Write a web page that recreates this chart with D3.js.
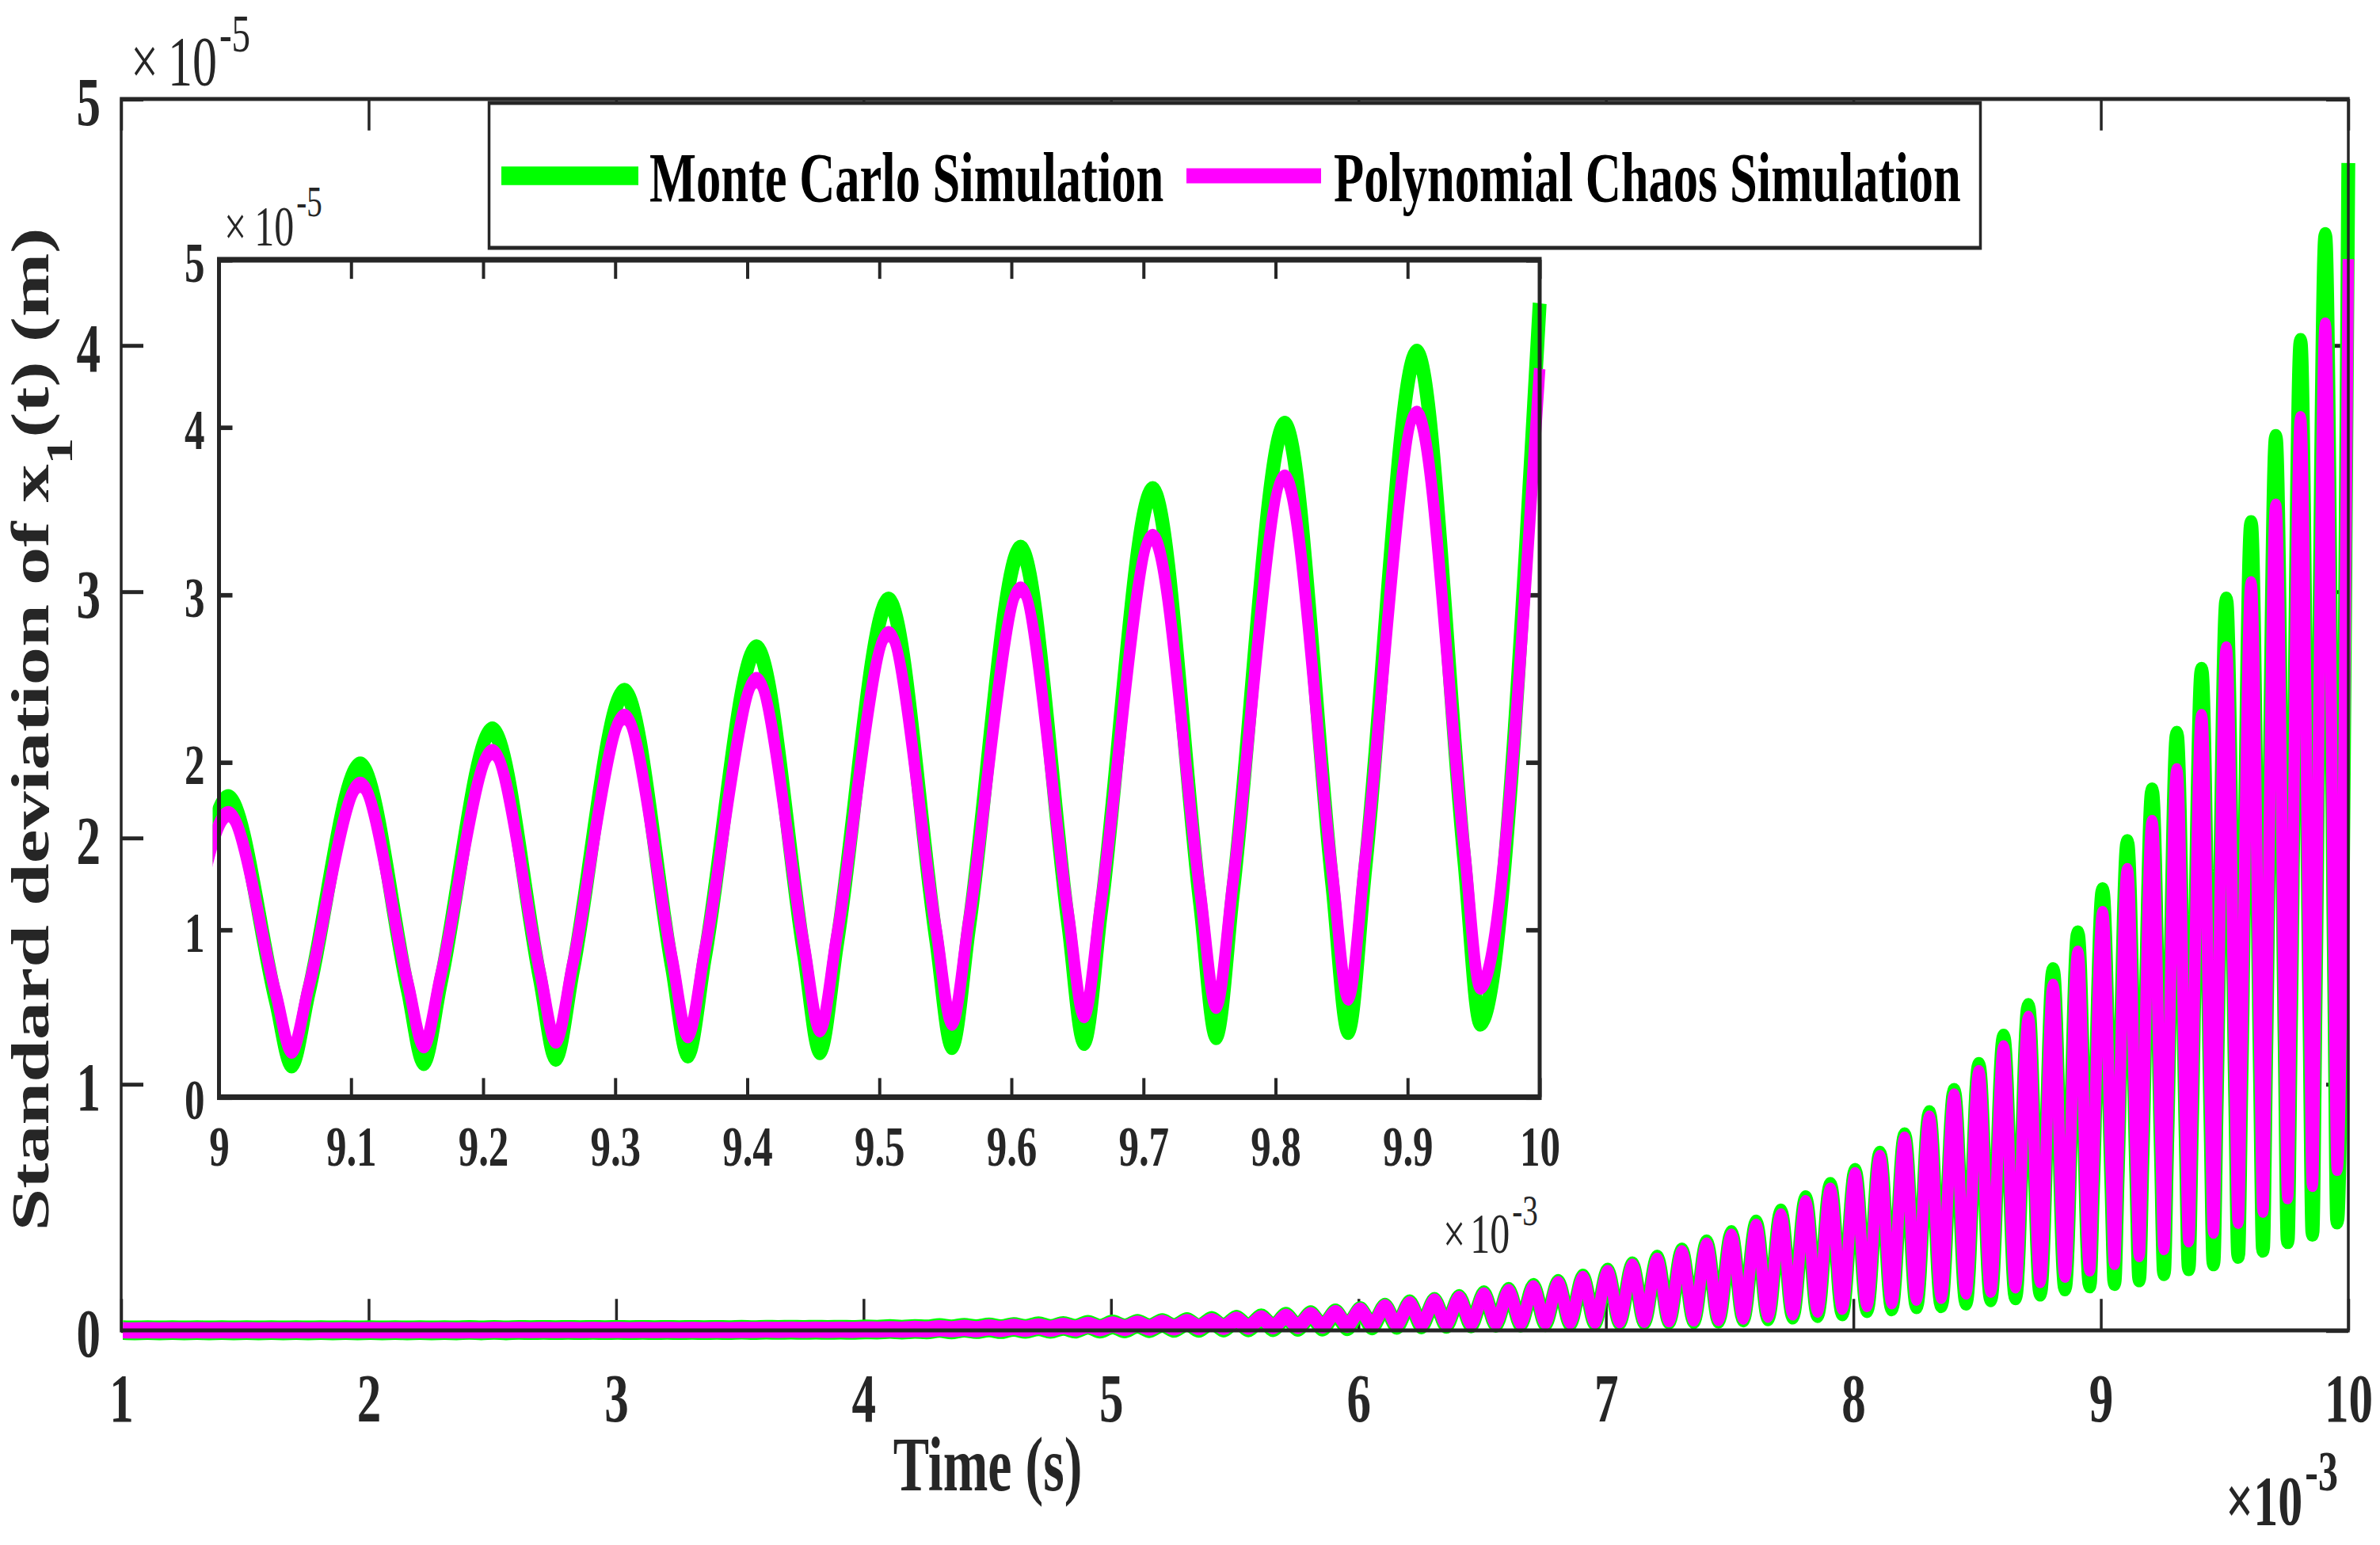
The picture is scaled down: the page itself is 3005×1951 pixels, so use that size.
<!DOCTYPE html>
<html>
<head>
<meta charset="utf-8">
<script src="https://cdn.jsdelivr.net/npm/d3@7"></script>
<style>
  body { margin: 0; background: #fff; }
  svg { display: block; }
  text { font-family: "Liberation Serif", "Times New Roman", serif; }
</style>
</head>
<body>
<div id="chart"></div>
<script>
// std. deviation of x1(t), in units of 1e-5 m.
// The response oscillates once every 0.1 ms, so each cycle is stored as
// its peak (at start + 0.007 ms) and its trough (at start + 0.055 ms).
const cycleStart = d3.range(10, 100).map(i => i / 10);   // 1.0 ... 9.9 (x 1e-3 s)
const peakPhase = 0.007;
const troughPhase = 0.055;
const endTime = 10;

const monteCarloPeak = [
  0.001, 0.001, 0.001, 0.001, 0.001, 0.001, 0.001, 0.001, 0.001, 0.001,
  0.001, 0.001, 0.001, 0.001, 0.002, 0.002, 0.002, 0.002, 0.002, 0.002,
  0.002, 0.002, 0.002, 0.002, 0.002, 0.003, 0.003, 0.003, 0.003, 0.003,
  0.004, 0.006, 0.006, 0.010, 0.011, 0.012, 0.014, 0.017, 0.018, 0.023,
  0.024, 0.027, 0.030, 0.034, 0.039, 0.044, 0.049, 0.056, 0.062, 0.069,
  0.079, 0.093, 0.106, 0.116, 0.128, 0.143, 0.157, 0.173, 0.189, 0.211,
  0.235, 0.261, 0.288, 0.317, 0.350, 0.388, 0.430, 0.475, 0.529, 0.583,
  0.640, 0.710, 0.785, 0.875, 0.965, 1.070, 1.185, 1.310, 1.455, 1.605,
  1.780, 1.975, 2.185, 2.415, 2.675, 2.960, 3.270, 3.620, 4.010, 4.440
];
const monteCarloTrough = [
  0.000, 0.000, 0.000, 0.000, 0.000, 0.000, 0.000, 0.000, 0.000, 0.000,
  0.000, 0.000, 0.000, 0.000, 0.000, 0.000, 0.001, 0.001, 0.001, 0.001,
  0.001, 0.001, 0.001, 0.001, 0.001, 0.001, 0.002, 0.002, 0.002, 0.002,
  0.003, 0.003, 0.004, 0.004, 0.005, 0.005, 0.006, 0.006, 0.007, 0.007,
  0.008, 0.009, 0.010, 0.010, 0.011, 0.012, 0.013, 0.014, 0.015, 0.017,
  0.020, 0.022, 0.024, 0.026, 0.028, 0.030, 0.031, 0.033, 0.034, 0.036,
  0.039, 0.041, 0.043, 0.045, 0.047, 0.052, 0.057, 0.064, 0.070, 0.077,
  0.090, 0.097, 0.106, 0.110, 0.120, 0.134, 0.142, 0.157, 0.178, 0.190,
  0.200, 0.215, 0.240, 0.260, 0.280, 0.310, 0.335, 0.370, 0.400, 0.450
];
const monteCarloEnd = 4.74;

const polyChaosPeak = [
  0.001, 0.001, 0.001, 0.001, 0.001, 0.001, 0.001, 0.001, 0.001, 0.001,
  0.001, 0.001, 0.001, 0.001, 0.001, 0.002, 0.002, 0.002, 0.002, 0.002,
  0.002, 0.002, 0.002, 0.002, 0.002, 0.002, 0.003, 0.003, 0.003, 0.003,
  0.004, 0.005, 0.006, 0.009, 0.010, 0.012, 0.014, 0.016, 0.018, 0.022,
  0.024, 0.027, 0.030, 0.034, 0.038, 0.043, 0.049, 0.055, 0.062, 0.070,
  0.080, 0.094, 0.106, 0.117, 0.128, 0.142, 0.156, 0.171, 0.188, 0.209,
  0.233, 0.259, 0.283, 0.313, 0.345, 0.381, 0.421, 0.463, 0.517, 0.567,
  0.630, 0.700, 0.775, 0.860, 0.950, 1.045, 1.145, 1.265, 1.395, 1.530,
  1.690, 1.865, 2.060, 2.270, 2.490, 2.765, 3.030, 3.345, 3.700, 4.080
];
const polyChaosTrough = [
  0.000, 0.000, 0.000, 0.000, 0.000, 0.000, 0.000, 0.000, 0.000, 0.000,
  0.000, 0.000, 0.000, 0.000, 0.000, 0.001, 0.001, 0.001, 0.001, 0.001,
  0.001, 0.001, 0.001, 0.001, 0.001, 0.002, 0.002, 0.002, 0.002, 0.002,
  0.003, 0.003, 0.004, 0.005, 0.005, 0.006, 0.007, 0.007, 0.008, 0.009,
  0.010, 0.011, 0.012, 0.013, 0.014, 0.015, 0.017, 0.018, 0.020, 0.023,
  0.025, 0.027, 0.028, 0.030, 0.031, 0.033, 0.034, 0.036, 0.037, 0.039,
  0.041, 0.043, 0.045, 0.048, 0.050, 0.056, 0.064, 0.073, 0.084, 0.096,
  0.107, 0.118, 0.133, 0.140, 0.158, 0.165, 0.183, 0.204, 0.226, 0.252,
  0.278, 0.310, 0.338, 0.370, 0.405, 0.445, 0.490, 0.545, 0.595, 0.660
];
const polyChaosEnd = 4.35;

// extra readings near the V-shaped troughs of the zoomed cycles:
// on the way down (start + 0.043 ms, cycles 9.0 ... 9.9)
// and on the way up (start + 0.068 ms, cycles 8.9 ... 9.8)
const fallPhase = 0.043;
const risePhase = 0.068;
const firstFallCycle = 80;
const firstRiseCycle = 79;
const monteCarloFall = [0.58, 0.64, 0.71, 0.78, 0.855, 0.945, 1.04, 1.15, 1.27, 1.41];
const monteCarloRise = [0.57, 0.63, 0.69, 0.76, 0.84, 0.92, 1.02, 1.12, 1.24, 1.37];
const polyChaosFall = [0.62, 0.68, 0.75, 0.83, 0.905, 1.00, 1.10, 1.22, 1.34, 1.48];
const polyChaosRise = [0.60, 0.66, 0.73, 0.80, 0.88, 0.97, 1.065, 1.175, 1.30, 1.43];

const seriesNames = ["Monte Carlo Simulation", "Polynomial Chaos Simulation"];
const mainXTicks = [1, 2, 3, 4, 5, 6, 7, 8, 9, 10];
const mainYTicks = [0, 1, 2, 3, 4, 5];
const insetXTicks = [9, 9.1, 9.2, 9.3, 9.4, 9.5, 9.6, 9.7, 9.8, 9.9, 10];
const insetYTicks = [0, 1, 2, 3, 4, 5];

function buildSeries(peaks, troughs, fall, rise, endValue) {
  const pts = [];
  cycleStart.forEach((s, i) => {
    pts.push({t: s + peakPhase, v: peaks[i]});
    const f = i - firstFallCycle;
    if (f >= 0 && f < fall.length) pts.push({t: s + fallPhase, v: fall[f]});
    pts.push({t: s + troughPhase, v: troughs[i]});
    const r = i - firstRiseCycle;
    if (r >= 0 && r < rise.length) pts.push({t: s + risePhase, v: rise[r]});
  });
  pts.push({t: endTime, v: endValue});
  return pts;
}

const series = [
  {name: seriesNames[0], color: "#00ff00", width: 17.5,
   data: buildSeries(monteCarloPeak, monteCarloTrough, monteCarloFall, monteCarloRise, monteCarloEnd)},
  {name: seriesNames[1], color: "#ff00ff", width: 14.5,
   data: buildSeries(polyChaosPeak, polyChaosTrough, polyChaosFall, polyChaosRise, polyChaosEnd)}
];

// the exported figure is stretched vertically; draw in an unstretched
// frame and scale it, so strokes and glyphs stretch the same way
const K = 1.42;
const v = y => y / K;
const axisColor = "#262626";

const svg = d3.select("#chart").append("svg")
  .attr("width", 3005)
  .attr("height", 1951);
svg.append("rect").attr("width", 3005).attr("height", 1951).attr("fill", "#fff");

const g = svg.append("g").attr("transform", `scale(1,${K})`);

function drawAxes(parent, x, y, box, o) {
  const ax = parent.append("g");
  ax.append("rect")
    .attr("x", box.left).attr("y", box.top)
    .attr("width", box.right - box.left).attr("height", box.bottom - box.top)
    .attr("fill", "#fff");

  const fmt = d3.format("~g");
  const bottom = ax.append("g")
    .attr("transform", `translate(0,${box.bottom})`)
    .call(d3.axisBottom(x).tickValues(o.xTicks).tickSize(-o.tick).tickFormat(fmt));
  const top = ax.append("g")
    .attr("transform", `translate(0,${box.top})`)
    .call(d3.axisTop(x).tickValues(o.xTicks).tickSize(-o.tick).tickFormat(""));
  const left = ax.append("g")
    .attr("transform", `translate(${box.left},0)`)
    .call(d3.axisLeft(y).tickValues(o.yTicks).tickSize(-o.tick).tickFormat(fmt));
  const right = ax.append("g")
    .attr("transform", `translate(${box.right},0)`)
    .call(d3.axisRight(y).tickValues(o.yTicks).tickSize(-o.tick).tickFormat(""));

  [bottom, top, left, right].forEach(a => {
    a.attr("font-family", null).attr("font-size", null);
    a.select(".domain").remove();
    a.selectAll(".tick line").attr("stroke", axisColor).attr("stroke-width", o.stroke);
  });

  bottom.selectAll("text")
    .attr("y", o.xLabelOffset).attr("dy", 0)
    .attr("fill", axisColor).attr("font-size", o.font).attr("font-weight", "bold");
  left.selectAll("text")
    .attr("x", -o.yLabelGap).attr("dy", "0.37em")
    .attr("fill", axisColor).attr("font-size", o.font).attr("font-weight", "bold");

  return ax;
}

function drawFrame(parent, box, stroke) {
  parent.append("rect")
    .attr("x", box.left).attr("y", box.top)
    .attr("width", box.right - box.left).attr("height", box.bottom - box.top)
    .attr("fill", "none").attr("stroke", axisColor).attr("stroke-width", stroke);
}

function drawLines(parent, x, y, clipId) {
  const line = d3.line()
    .x(d => x(d.t))
    .y(d => y(d.v))
    .curve(d3.curveMonotoneX);
  const lg = parent.append("g");
  if (clipId) lg.attr("clip-path", `url(#${clipId})`);
  lg.selectAll("path")
    .data(series)
    .join("path")
    .attr("d", d => line(d.data))
    .attr("fill", "none")
    .attr("stroke", d => d.color)
    .attr("stroke-width", d => d.width)
    .attr("stroke-linejoin", "round");
}

// ---- main axes ----
const mainBox = {left: 153, right: 2965, top: v(125), bottom: v(1680)};
const xMain = d3.scaleLinear().domain([1, 10]).range([mainBox.left, mainBox.right]);
const yMain = d3.scaleLinear().domain([0, 5]).range([mainBox.bottom, mainBox.top]);

drawAxes(g, xMain, yMain, mainBox, {
  xTicks: mainXTicks, yTicks: mainYTicks, tick: 28, stroke: 3.5,
  font: 61, xLabelOffset: v(115), yLabelGap: 26
});
drawLines(g, xMain, yMain, null);
drawFrame(g, mainBox, 3.5);

// ---- legend ----
const legend = g.append("g");
legend.append("rect")
  .attr("x", 617.5).attr("y", v(130))
  .attr("width", 1883).attr("height", v(313) - v(130))
  .attr("fill", "#fff").attr("stroke", axisColor).attr("stroke-width", 3.5);
const legendItems = [
  {x0: 633, x1: 806, tx: 820},
  {x0: 1498, x1: 1668, tx: 1684}
];
legendItems.forEach((it, i) => {
  legend.append("line")
    .attr("x1", it.x0).attr("x2", it.x1)
    .attr("y1", v(222)).attr("y2", v(222))
    .attr("stroke", series[i].color).attr("stroke-width", series[i].width - 1);
  legend.append("text")
    .attr("x", it.tx).attr("y", v(254))
    .attr("font-size", 62.5).attr("font-weight", "bold").attr("fill", "#000")
    .text(series[i].name);
});

// ---- inset (zoom on 9-10 ms) ----
const insetBox = {left: 276.5, right: 1944, top: v(328), bottom: v(1385.5)};
const xInset = d3.scaleLinear().domain([9, 10]).range([insetBox.left, insetBox.right]);
const yInset = d3.scaleLinear().domain([0, 5]).range([insetBox.bottom, insetBox.top]);

g.append("clipPath").attr("id", "insetClip")
  .append("rect")
  .attr("x", insetBox.left - 8).attr("y", v(250))
  .attr("width", insetBox.right - insetBox.left + 30)
  .attr("height", insetBox.bottom - v(250));

drawAxes(g, xInset, yInset, insetBox, {
  xTicks: insetXTicks, yTicks: insetYTicks, tick: 17, stroke: 4,
  font: 51, xLabelOffset: v(87), yLabelGap: 18
});
drawLines(g, xInset, yInset, "insetClip");
drawFrame(g, insetBox, 5);

// ---- exponent labels ----
const exponents = [
  {x: 165, base: 107, sup: 65, text: "-5", size: 62, supSize: 47, bold: false, gap: 12},
  {x: 283, base: 310, sup: 273, text: "-5", size: 50, supSize: 39, bold: false, gap: 10},
  {x: 1822, base: 1582, sup: 1547, text: "-3", size: 50, supSize: 39, bold: false, gap: 6},
  {x: 2810, base: 1925, sup: 1882, text: "-3", size: 62, supSize: 50, bold: true, gap: 0}
];
exponents.forEach(e => {
  const t = g.append("text")
    .attr("x", e.x).attr("y", v(e.base))
    .attr("font-size", e.size)
    .attr("font-weight", e.bold ? "bold" : "normal")
    .attr("fill", axisColor);
  t.append("tspan").text("\u00d7");
  t.append("tspan").attr("dx", e.gap).text("10");
  t.append("tspan")
    .attr("dx", 3)
    .attr("dy", v(e.sup) - v(e.base))
    .attr("font-size", e.supSize)
    .text(e.text);
});

// ---- axis titles ----
g.append("text")
  .attr("x", 1247).attr("y", v(1882))
  .attr("text-anchor", "middle")
  .attr("font-size", 68).attr("font-weight", "bold").attr("fill", axisColor)
  .text("Time (s)");

const yTitle = g.append("text")
  .attr("transform", `translate(61,${v(921)}) rotate(-90)`)
  .attr("text-anchor", "middle")
  .attr("font-size", 68).attr("font-weight", "bold").attr("fill", axisColor);
yTitle.append("tspan").text("Standard deviation of x");
yTitle.append("tspan").attr("dy", 30).attr("font-size", 47).text("1");
yTitle.append("tspan").attr("dy", -30).text("(t) (m)");
</script>
</body>
</html>
